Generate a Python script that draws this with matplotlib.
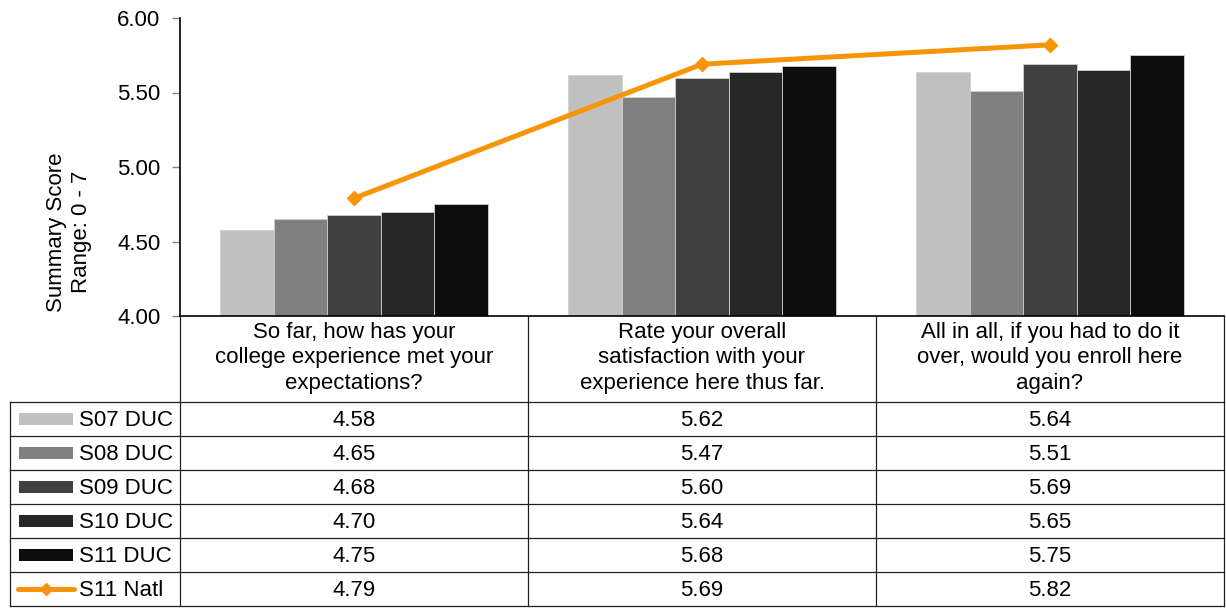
import matplotlib.pyplot as plt
from matplotlib.lines import Line2D
from matplotlib.patches import Rectangle

plt.rcParams['font.family'] = ['Liberation Sans', 'DejaVu Sans']

perguntas = ["So far, how has your\ncollege experience met your\nexpectations?",
             "Rate your overall\nsatisfaction with your\nexperience here thus far.",
             "All in all, if you had to do it\nover, would you enroll here\nagain?"]
series = ["S07 DUC", "S08 DUC", "S09 DUC", "S10 DUC", "S11 DUC"]
s07 = [4.58, 5.62, 5.64]
s08 = [4.65, 5.47, 5.51]
s09 = [4.68, 5.60, 5.69]
s10 = [4.70, 5.64, 5.65]
s11 = [4.75, 5.68, 5.75]
natl_nome = "S11 Natl"
natl = [4.79, 5.69, 5.82]
cores = ["#C0C0C0", "#808080", "#404040", "#262626", "#0D0D0D"]
laranja = "#F79508"
fs = 16

W, H = 1226, 613
fig = plt.figure(figsize=(W / 100, H / 100), dpi=100)

def fx(px):
    return px / W

def fy(py):
    return 1 - py / H

# area do grafico
ax = fig.add_axes([fx(180), fy(316), fx(1224) - fx(180), fy(18) - fy(316)])
valores = [s07, s08, s09, s10, s11]
larg = 0.154
for k, vals in enumerate(valores):
    xs = [i + (k - 2) * larg for i in range(len(vals))]
    ax.bar(xs, [v - 4 for v in vals], bottom=4, width=larg, color=cores[k],
           edgecolor="#D0D0D0", linewidth=0.6)
ax.plot(range(3), natl, color=laranja, linewidth=3.6, marker="D", markersize=7,
        zorder=5)

ax.set_xlim(-0.5, 2.5)
ax.set_ylim(4, 6)
ax.set_yticks([4, 4.5, 5, 5.5, 6])
ax.set_yticklabels(["%.2f" % t for t in [4, 4.5, 5, 5.5, 6]], fontsize=fs)
ax.tick_params(axis="y", length=6, color="#808080", width=1, pad=8)
ax.set_xticks([])
for lado in ["top", "right"]:
    ax.spines[lado].set_visible(False)
ax.spines["left"].set_color("black")
ax.spines["bottom"].set_color("black")
ax.spines["left"].set_linewidth(1.2)
ax.spines["bottom"].set_linewidth(1.2)

fig.text(fx(69), fy(232), "Summary Score\nRange: 0 - 7", rotation=90,
         ha="center", va="center", fontsize=fs, linespacing=1.3)

# tabela de dados
cor_linha = "#202020"
topo_linhas = 402
alt = 34
n = len(series) + 1
fundo = topo_linhas + n * alt
colunas = [180, 528, 876, 1224]

for j in range(n + 1):
    y = topo_linhas + j * alt
    fig.add_artist(Line2D([fx(10), fx(1224)], [fy(y), fy(y)], color=cor_linha,
                          linewidth=0.9))
fig.add_artist(Line2D([fx(10), fx(10)], [fy(topo_linhas), fy(fundo)],
                      color=cor_linha, linewidth=0.9))
for c in colunas:
    fig.add_artist(Line2D([fx(c), fx(c)], [fy(316), fy(fundo)],
                          color=cor_linha, linewidth=0.9))

for i, p in enumerate(perguntas):
    cx = (colunas[i] + colunas[i + 1]) / 2
    fig.text(fx(cx), fy(358), p, ha="center", va="center", fontsize=fs,
             linespacing=1.3)

todas = valores + [natl]
nomes = series + [natl_nome]
for j in range(n):
    cy = topo_linhas + j * alt + alt / 2
    ty = cy + 1.5
    if j < len(series):
        fig.add_artist(Rectangle((fx(19), fy(cy + 6)), fx(54), fy(cy - 6) - fy(cy + 6),
                                 facecolor=cores[j], edgecolor="none",
                                 transform=fig.transFigure))
    else:
        fig.add_artist(Line2D([fx(18), fx(74)], [fy(cy), fy(cy)], color=laranja,
                              linewidth=3.6, solid_capstyle="round"))
        fig.add_artist(Line2D([fx(46)], [fy(cy)], color=laranja, marker="D",
                              markersize=6))
    fig.text(fx(79), fy(ty), nomes[j], ha="left", va="center", fontsize=fs)
    for i in range(3):
        cx = (colunas[i] + colunas[i + 1]) / 2
        fig.text(fx(cx), fy(ty), "%.2f" % todas[j][i], ha="center", va="center",
                 fontsize=fs)

fig.savefig("out.png", dpi=100)
